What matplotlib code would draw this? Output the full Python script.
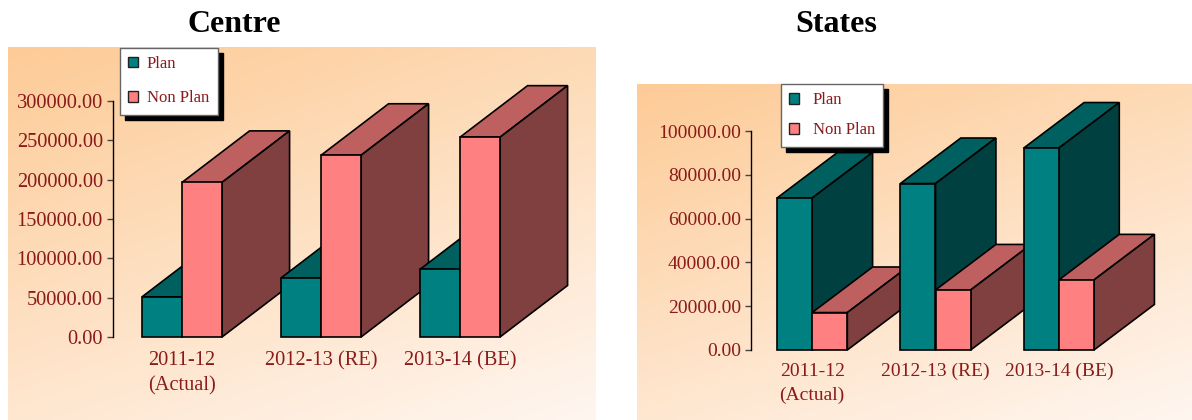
import numpy as np
import matplotlib
matplotlib.use('Agg')
import matplotlib.pyplot as plt
from matplotlib.patches import Patch

years = ['2011-12\n(Actual)', '2012-13 (RE)', '2013-14 (BE)']
centre_plan = [51000, 75000, 86000]
centre_non_plan = [196500, 231000, 254000]
states_plan = [69400, 76000, 92200]
states_non_plan = [17100, 27400, 32000]
centre_ticks = [0, 50000, 100000, 150000, 200000, 250000, 300000]
states_ticks = [0, 20000, 40000, 60000, 80000, 100000]

W, H = 1192, 420
text_red = '#8b1a1a'
serif = 'Liberation Serif'
teal = ('#008080', '#006060', '#004040')
pink = ('#ff8080', '#bf6060', '#804040')

fig = plt.figure(figsize=(W / 100, H / 100), dpi=100)


def px_axes(x0, y0, x1, y1):
    # pixel box (y from the top) to figure fractions
    return fig.add_axes([x0 / W, 1 - y1 / H, (x1 - x0) / W, (y1 - y0) / H])


def background(x0, y0, x1, y1):
    ax = px_axes(x0, y0, x1, y1)
    u, v = np.meshgrid(np.linspace(0, 1, 200), np.linspace(0, 1, 200))
    t = (0.35 * u + 0.65 * v)[..., None]
    start = np.array([253, 203, 150]) / 255
    end = np.array([255, 246, 240]) / 255
    ax.imshow(start + (end - start) * t, aspect='auto')
    ax.axis('off')


def box(ax, x, w, val, dx, dy, colors):
    front, top, side = colors
    ax.fill([x, x + w, x + w + dx, x + dx], [val, val, val + dy, val + dy],
            facecolor=top, edgecolor='black', lw=1.2, clip_on=False)
    ax.fill([x + w, x + w + dx, x + w + dx, x + w], [0, dy, val + dy, val],
            facecolor=side, edgecolor='black', lw=1.2, clip_on=False)
    ax.bar(x, val, w, align='edge', color=front, edgecolor='black', lw=1.2, clip_on=False)


def panel(box_px, plan, non_plan, ticks, w, dx, dy, size, pad, line, legend_xy, spacing, text_pad):
    ax = px_axes(*box_px)
    ax.patch.set_alpha(0)
    for i in range(3):
        box(ax, i - w, w, plan[i], dx, dy, teal)
        box(ax, i, w, non_plan[i], dx, dy, pink)
    ax.set_xlim(-0.5, 2.5)
    ax.set_ylim(0, ticks[-1])
    ax.set_yticks(ticks)
    ax.set_yticklabels(['%.2f' % t for t in ticks], family=serif, fontsize=size, color=text_red)
    ax.set_xticks(range(3))
    ax.set_xticklabels(years, family=serif, fontsize=size, color=text_red, linespacing=line)
    ax.tick_params(axis='y', length=4, width=1, color='#444444', pad=3)
    ax.tick_params(axis='x', length=0, pad=pad)
    for s in ['top', 'right', 'bottom']:
        ax.spines[s].set_visible(False)
    ax.spines['left'].set_linewidth(1)
    handles = [Patch(facecolor=teal[0], edgecolor='#222222', label='Plan'),
               Patch(facecolor=pink[0], edgecolor='#222222', label='Non Plan')]
    leg = ax.legend(handles=handles, loc='upper left', bbox_to_anchor=(legend_xy[0] / W, 1 - legend_xy[1] / H),
                    bbox_transform=fig.transFigure, borderaxespad=0, fancybox=False, framealpha=1,
                    edgecolor='#666666', facecolor='white', handlelength=0.6, handleheight=0.6,
                    handletextpad=text_pad, labelspacing=spacing, borderpad=0.5,
                    prop={'family': serif, 'size': 12}, labelcolor=text_red,
                    shadow={'color': 'black', 'alpha': 1, 'ox': 3.6, 'oy': -3.6})
    leg.set_zorder(50)


background(8, 47, 596, 420)
background(637, 84, 1192, 420)

panel((112.5, 101, 529.5, 337), centre_plan, centre_non_plan, centre_ticks,
      0.288, 0.486, 65500, 14.7, 10, 1.48, (119.5, 47.5), 1.1, 0.55)
panel((750.5, 131, 1120.5, 350), states_plan, states_non_plan, states_ticks,
      0.285, 0.49, 20800, 14, 9, 1.55, (781, 84), 0.85, 0.8)

fig.text(234 / W, 1 - 24 / H, 'Centre', family=serif, fontweight='bold', fontsize=23, ha='center', va='center')
fig.text(836 / W, 1 - 24 / H, 'States', family=serif, fontweight='bold', fontsize=23, ha='center', va='center')

fig.savefig('out.png', dpi=100)
